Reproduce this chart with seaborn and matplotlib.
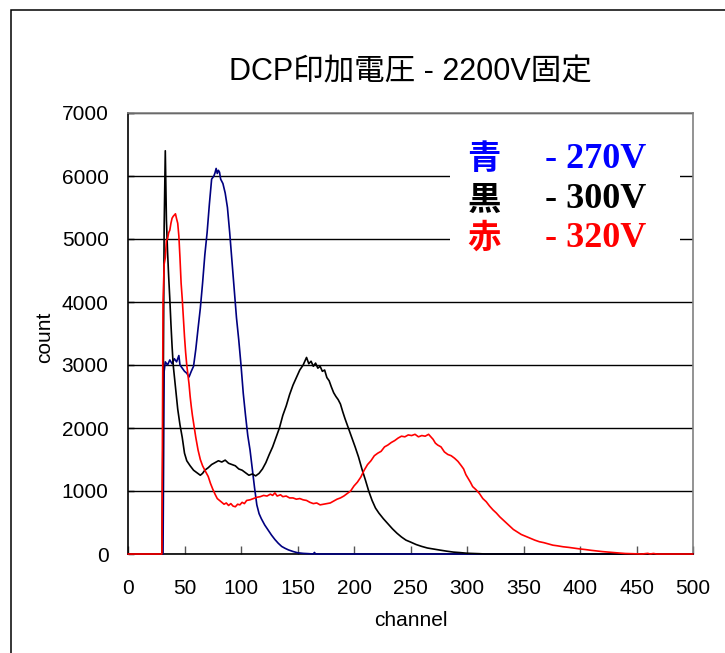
import matplotlib
matplotlib.use("Agg")
import matplotlib.pyplot as plt
from matplotlib.patches import Rectangle
import pandas as pd
import seaborn as sns

# Pulse-height spectra, DCP bias fixed at 2200 V
ch_270 = [0, 31, 32, 33, 35, 37, 39, 41, 43, 45, 46, 48, 50, 52, 54, 56, 58, 60, 62, 64,
          66, 68, 70, 72, 74, 76, 77, 78, 79, 80, 81, 82, 84, 86, 88, 90, 92, 94, 96, 98,
          100, 102, 104, 106, 108, 110, 112, 114, 116, 118, 121, 124, 127, 130, 133, 136,
          139, 142, 146, 150, 155, 160, 164, 165, 166, 170, 500]
cnt_270 = [0, 0, 2900, 3050, 3000, 3080, 3020, 3100, 3050, 3150, 3000, 2950, 2900, 2870,
           2810, 2900, 2980, 3250, 3580, 3900, 4300, 4750, 5100, 5550, 5950, 6000, 6050,
           6120, 6040, 6090, 6060, 5950, 5880, 5730, 5500, 5100, 4650, 4200, 3750, 3400,
           3000, 2550, 2200, 1880, 1650, 1350, 1050, 780, 640, 560, 460, 380, 300, 230,
           170, 120, 90, 65, 40, 20, 10, 5, 0, 25, 0, 0, 0]

ch_300 = [0, 30, 31, 32, 33, 34, 35, 36, 37, 38, 39, 40, 42, 44, 46, 48, 50, 52, 55, 58,
          61, 64, 66, 68, 71, 74, 77, 80, 83, 86, 89, 92, 95, 98, 101, 104, 107, 110, 113,
          116, 119, 122, 125, 128, 131, 134, 137, 140, 143, 146, 149, 152, 155, 157, 158,
          160, 162, 164, 166, 168, 170, 172, 174, 176, 178, 180, 182, 184, 186, 188, 190,
          192, 195, 198, 201, 204, 207, 210, 213, 216, 219, 222, 226, 230, 234, 238, 242,
          246, 250, 255, 260, 265, 270, 276, 282, 288, 294, 300, 306, 312, 316, 500]
cnt_300 = [0, 0, 2000, 5200, 6400, 5300, 4800, 4400, 4050, 3650, 3300, 3000, 2650, 2300,
           2050, 1850, 1600, 1480, 1400, 1330, 1290, 1250, 1280, 1330, 1370, 1420, 1450,
           1480, 1460, 1490, 1440, 1420, 1400, 1350, 1330, 1290, 1250, 1270, 1240, 1280,
           1350, 1450, 1580, 1700, 1850, 2000, 2200, 2350, 2530, 2680, 2800, 2920, 3000,
           3080, 3120, 3020, 3060, 2980, 3030, 2950, 2980, 2900, 2920, 2800, 2750, 2650,
           2560, 2500, 2450, 2380, 2260, 2150, 2000, 1850, 1700, 1540, 1350, 1180, 1000,
           850, 730, 650, 560, 480, 400, 330, 270, 220, 190, 150, 120, 95, 80, 62, 45, 30,
           22, 12, 8, 4, 0, 0]

ch_320 = [0, 30, 31, 32, 33, 34, 35, 36, 37, 38, 39, 40, 41, 42, 43, 44, 45, 46, 47, 48,
          49, 50, 51, 52, 53, 54, 55, 56, 57, 58, 59, 60, 62, 64, 66, 68, 71, 73, 75, 77,
          79, 81, 83, 85, 87, 89, 91, 93, 95, 97, 99, 101, 103, 105, 108, 111, 114, 117,
          120, 123, 126, 128, 130, 132, 135, 137, 140, 143, 146, 149, 152, 155, 158, 161,
          164, 167, 170, 173, 176, 179, 182, 185, 188, 191, 194, 197, 200, 203, 206, 209,
          212, 215, 218, 221, 224, 227, 230, 233, 236, 239, 242, 245, 248, 251, 254, 257,
          260, 263, 266, 268, 270, 272, 274, 277, 280, 283, 286, 289, 292, 295, 297, 299,
          301, 303, 305, 308, 311, 314, 317, 320, 323, 326, 329, 332, 335, 338, 341, 344,
          348, 352, 356, 360, 364, 368, 372, 376, 380, 385, 390, 395, 400, 405, 410, 415,
          420, 425, 430, 435, 440, 445, 450, 455, 460, 462, 465, 468, 500]
cnt_320 = [0, 0, 4000, 4600, 4700, 4980, 5000, 5100, 5140, 5250, 5330, 5360, 5380, 5400,
           5320, 5250, 5050, 4700, 4300, 4050, 3750, 3450, 3200, 3000, 2850, 2700, 2500,
           2340, 2200, 2080, 1970, 1850, 1650, 1500, 1400, 1330, 1230, 1120, 1030, 950,
           880, 850, 820, 790, 810, 770, 800, 760, 750, 790, 780, 820, 800, 850, 860, 880,
           900, 910, 930, 920, 950, 930, 970, 920, 940, 910, 920, 890, 890, 870, 880, 860,
           850, 820, 800, 810, 780, 790, 800, 810, 840, 870, 890, 920, 960, 1000, 1080,
           1140, 1220, 1330, 1420, 1480, 1560, 1600, 1630, 1700, 1730, 1770, 1800, 1840,
           1870, 1860, 1890, 1880, 1900, 1860, 1880, 1870, 1900, 1860, 1820, 1760, 1730,
           1700, 1620, 1580, 1560, 1520, 1470, 1400, 1350, 1260, 1200, 1140, 1070, 1020,
           960, 880, 830, 760, 700, 650, 590, 540, 490, 440, 390, 355, 310, 280, 250, 220,
           195, 180, 160, 140, 130, 115, 105, 92, 80, 70, 58, 48, 38, 30, 22, 15, 8, 5, 3,
           0, 10, 0, 8, 0, 0]

voltages = ["270V", "300V", "320V"]
colour_words = ["青", "黒", "赤"]
line_colours = ["#000080", "#000000", "#FF0000"]
text_colours = ["#0000FF", "#000000", "#FF0000"]
x_ticks = [0, 50, 100, 150, 200, 250, 300, 350, 400, 450, 500]
y_ticks = [0, 1000, 2000, 3000, 4000, 5000, 6000, 7000]
title = "DCP印加電圧 - 2200V固定"

frames = []
for v, chs, cnts in zip(voltages, [ch_270, ch_300, ch_320], [cnt_270, cnt_300, cnt_320]):
    frames.append(pd.DataFrame({"channel": chs, "count": cnts, "voltage": v}))
df = pd.concat(frames, ignore_index=True)

sns.set_theme(style="white")
plt.rcParams["font.family"] = ["Liberation Sans", "Noto Sans CJK JP"]

W, H = 725, 653
fig = plt.figure(figsize=(W / 100, H / 100), dpi=100)
ax_l, ax_r, ax_t, ax_b = 128, 693, 113, 554
ax = fig.add_axes([ax_l / W, 1 - ax_b / H, (ax_r - ax_l) / W, (ax_b - ax_t) / H])

sns.lineplot(data=df, x="channel", y="count", hue="voltage", hue_order=voltages,
             palette=dict(zip(voltages, line_colours)), estimator=None, sort=False,
             legend=False, linewidth=1.2, ax=ax)
for ln in ax.lines:
    ln.set_zorder(3)
    ln.set_clip_on(False)

ax.set_xlim(0, 500)
ax.set_ylim(0, 7000)
ax.set_xticks(x_ticks)
ax.set_yticks(y_ticks)
ax.set_axisbelow(True)
ax.yaxis.grid(True, color="black", linewidth=1.0)
ax.xaxis.grid(False)

for side in ["left", "bottom"]:
    ax.spines[side].set_color("black")
    ax.spines[side].set_linewidth(1.2)
for side in ["top", "right"]:
    ax.spines[side].set_color("#808080")
    ax.spines[side].set_linewidth(1.2)

ax.tick_params(axis="x", bottom=True, direction="in", length=6, width=1,
               color="#555555", pad=18, labelsize=15, labelcolor="black")
ax.tick_params(axis="y", left=True, direction="in", length=4, width=1,
               color="black", pad=14, labelsize=15, labelcolor="black")

ax.set_xlabel("channel", fontsize=15, color="black")
ax.xaxis.label.set_va("center")
ax.xaxis.set_label_coords(0.5, (ax_b - 621) / (ax_b - ax_t))
ax.set_ylabel("count", fontsize=15, color="black")
ax.yaxis.label.set_va("center")
ax.yaxis.set_label_coords((45 - ax_l) / (ax_r - ax_l), (ax_b - 337) / (ax_b - ax_t))

fig.text(410.5 / W, 1 - 72 / H, title, ha="center", va="center", fontsize=22,
         color="black")

# White panel behind the colour key hides the gridlines there
key_l, key_r, key_t, key_b = 450, 680, 138, 258
ax.add_patch(Rectangle(((key_l - ax_l) / (ax_r - ax_l), (ax_b - key_b) / (ax_b - ax_t)),
                       (key_r - key_l) / (ax_r - ax_l), (key_b - key_t) / (ax_b - ax_t),
                       transform=ax.transAxes, facecolor="white", edgecolor="none",
                       zorder=1))

# Colour key for the three spectra
row_y = [160, 200, 238]
for word, v, col, y in zip(colour_words, voltages, text_colours, row_y):
    fig.text(484 / W, 1 - y / H, word, ha="center", va="center", fontsize=24,
             fontweight="bold", color=col, family=["Noto Sans CJK JP", "DejaVu Sans"])
    fig.text(545 / W, 1 - y / H, "- " + v, ha="left", va="center", fontsize=26,
             fontweight="bold", color=col, family=["Liberation Serif", "DejaVu Serif"])

fig.add_artist(Rectangle((10.5 / W, -0.05), 1.2, (1 - 10 / H) + 0.05,
                         transform=fig.transFigure, fill=False, edgecolor="black",
                         linewidth=1.1))

fig.savefig("out.png", dpi=100)
